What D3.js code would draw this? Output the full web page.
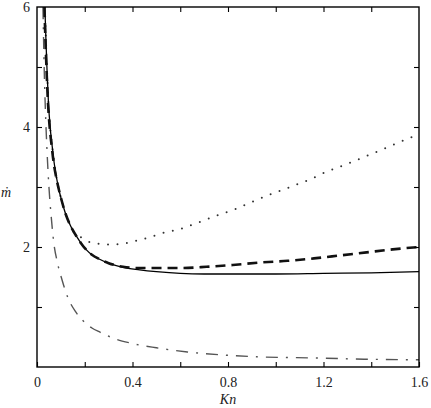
<!DOCTYPE html>
<html>
<head>
<meta charset="utf-8">
<script src="https://cdnjs.cloudflare.com/ajax/libs/d3/7.8.5/d3.min.js"></script>
<style>
  body { margin: 0; background: #fff; }
  text { font-family: "Liberation Serif", "DejaVu Serif", serif; }
</style>
</head>
<body>
<div id="chart"></div>
<script>
// values (Kn, m-dot)
let solid = [
  [0.033, 6.0], [0.037, 5.5], [0.042, 4.95], [0.048, 4.4], [0.055, 4.0], [0.063, 3.7],
  [0.072, 3.4], [0.082, 3.15], [0.092, 2.95], [0.105, 2.75], [0.12, 2.55], [0.135, 2.4],
  [0.15, 2.28], [0.165, 2.18], [0.185, 2.06], [0.205, 1.96], [0.23, 1.87], [0.26, 1.8],
  [0.3, 1.73], [0.36, 1.66], [0.43, 1.62], [0.5, 1.59], [0.6, 1.56], [0.7, 1.55],
  [0.8, 1.55], [1.0, 1.55], [1.2, 1.56], [1.4, 1.57], [1.6, 1.59]
];
let dashed = [
  [0.031, 6.0], [0.035, 5.5], [0.04, 4.95], [0.046, 4.4], [0.053, 4.0], [0.061, 3.7],
  [0.07, 3.4], [0.081, 3.15], [0.092, 2.95], [0.105, 2.75], [0.12, 2.55], [0.135, 2.4],
  [0.15, 2.28], [0.165, 2.18], [0.185, 2.06], [0.205, 1.96], [0.23, 1.87], [0.26, 1.8],
  [0.3, 1.73], [0.36, 1.67], [0.43, 1.65], [0.5, 1.65], [0.6, 1.65], [0.71, 1.67],
  [0.82, 1.7], [0.93, 1.74], [1.05, 1.77], [1.16, 1.81], [1.27, 1.86], [1.38, 1.91],
  [1.49, 1.96], [1.6, 2.0]
];
let dotted = [
  [0.033, 6.0], [0.037, 5.5], [0.042, 4.95], [0.048, 4.4], [0.055, 4.0], [0.063, 3.7],
  [0.072, 3.4], [0.082, 3.15], [0.092, 2.95], [0.105, 2.75], [0.12, 2.55], [0.135, 2.4],
  [0.15, 2.27], [0.19, 2.15], [0.23, 2.07], [0.27, 2.05], [0.31, 2.04], [0.35, 2.05],
  [0.39, 2.08], [0.43, 2.12], [0.47, 2.16], [0.515, 2.22], [0.6, 2.3], [0.67, 2.4],
  [0.75, 2.52], [0.83, 2.63], [0.9, 2.75], [0.98, 2.88], [1.06, 3.0], [1.14, 3.12],
  [1.21, 3.25], [1.29, 3.37], [1.37, 3.5], [1.45, 3.63], [1.52, 3.75], [1.6, 3.88]
];
let dashdot = [
  [0.025, 6.0], [0.03, 5.0], [0.035, 4.3], [0.042, 3.6], [0.05, 3.0], [0.059, 2.53],
  [0.071, 2.05], [0.085, 1.75], [0.105, 1.45], [0.13, 1.15], [0.16, 0.93], [0.193, 0.77],
  [0.23, 0.65], [0.264, 0.58], [0.32, 0.48], [0.39, 0.4], [0.5, 0.32], [0.63, 0.25],
  [0.78, 0.2], [0.92, 0.17], [1.17, 0.15], [1.37, 0.13], [1.6, 0.12]
];
let xTicks = [0, 0.2, 0.4, 0.6, 0.8, 1.0, 1.2, 1.4, 1.6];
let xLabels = [0, 0.4, 0.8, 1.2, 1.6];
let yTicks = [1, 2, 3, 4, 5];
let yLabels = [2, 4, 6];

let margin = { top: 7, left: 37, right: 12, bottom: 41 },
  width = 431 - margin.left - margin.right,
  height = 408 - margin.top - margin.bottom;

let svg = d3.select("#chart")
  .append("svg")
    .attr("width", 431)
    .attr("height", 408);

let g = svg.append("g")
    .attr("transform", "translate(" + margin.left + "," + margin.top + ")");

let x = d3.scaleLinear().domain([0, 1.6]).range([0, width]);
let y = d3.scaleLinear().domain([0, 6]).range([height, 0]);

// clip so curves stop at the frame
g.append("clipPath").attr("id", "clip")
  .append("rect").attr("width", width).attr("height", height);

let line = d3.line()
  .x(function(d) { return x(d[0]); })
  .y(function(d) { return y(d[1]); })
  .curve(d3.curveMonotoneX);

let curves = g.append("g").attr("clip-path", "url(#clip)");

curves.append("path").datum(dashdot)
  .attr("fill", "none").attr("stroke", "#555")
  .attr("stroke-width", 1.4)
  .attr("stroke-dasharray", "12,8,2,8")
  .attr("d", line);

curves.append("path").datum(dotted)
  .attr("fill", "none").attr("stroke", "#333")
  .attr("stroke-width", 2)
  .attr("stroke-linecap", "round")
  .attr("stroke-dasharray", "0,9.5")
  .attr("d", line);

curves.append("path").datum(solid)
  .attr("fill", "none").attr("stroke", "#000")
  .attr("stroke-width", 1.3)
  .attr("d", line);

curves.append("path").datum(dashed)
  .attr("fill", "none").attr("stroke", "#111")
  .attr("stroke-width", 2.6)
  .attr("stroke-dasharray", "10,6")
  .attr("d", line);

// axes: ticks pointing inwards on all four sides, labels only at some
let xAxisB = g.append("g").attr("transform", "translate(0," + height + ")")
  .call(d3.axisBottom(x).tickValues(xTicks).tickSizeInner(-5).tickSizeOuter(0)
    .tickFormat(function(d) { return xLabels.indexOf(d) >= 0 ? d3.format("")(d) : ""; }));
let xAxisT = g.append("g")
  .call(d3.axisTop(x).tickValues(xTicks.slice(1, -1)).tickSizeInner(-5).tickSizeOuter(0).tickFormat(""));
let yAxisL = g.append("g")
  .call(d3.axisLeft(y).tickValues(yTicks.concat([6])).tickSizeInner(-5).tickSizeOuter(0)
    .tickFormat(function(d) { return yLabels.indexOf(d) >= 0 ? d : ""; }));
let yAxisR = g.append("g").attr("transform", "translate(" + width + ",0)")
  .call(d3.axisRight(y).tickValues(yTicks).tickSizeInner(-5).tickSizeOuter(0).tickFormat(""));

[xAxisB, xAxisT, yAxisL, yAxisR].forEach(function(a) {
  a.select(".domain").remove();
  a.selectAll(".tick line").attr("stroke", "#000").attr("stroke-width", 1.1);
  a.selectAll("text")
    .attr("font-family", "Liberation Serif")
    .attr("font-size", 14)
    .attr("fill", "#222");
});
xAxisB.selectAll("text").attr("y", 10);
yAxisL.selectAll("text").attr("x", -7);
yAxisL.selectAll(".tick").filter(function(d) { return d === 6; }).select("line").remove();

g.append("rect")
  .attr("width", width).attr("height", height)
  .attr("fill", "none").attr("stroke", "#000").attr("stroke-width", 1.4);

// axis titles
svg.append("text")
  .attr("x", margin.left + x(0.8))
  .attr("y", 404)
  .attr("text-anchor", "middle")
  .attr("font-size", 14)
  .attr("font-style", "italic")
  .attr("fill", "#222")
  .text("Kn");

svg.append("text")
  .attr("x", 1)
  .attr("y", 197)
  .attr("font-size", 14)
  .attr("font-style", "italic")
  .attr("fill", "#222")
  .text("ṁ");
</script>
</body>
</html>
